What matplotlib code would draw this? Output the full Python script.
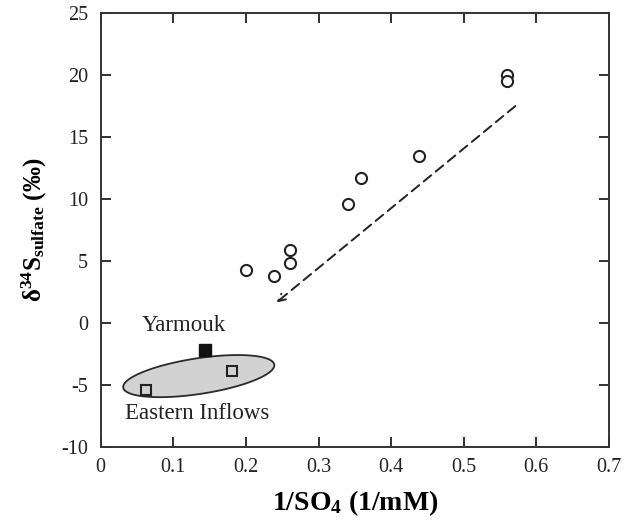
import numpy as np
import matplotlib
matplotlib.use("Agg")
import matplotlib.pyplot as plt
from matplotlib.patches import Polygon

plt.rcParams['font.family'] = ['Liberation Serif', 'DejaVu Serif']
plt.rcParams['mathtext.fontset'] = 'custom'
plt.rcParams['mathtext.rm'] = 'Liberation Serif'
plt.rcParams['mathtext.it'] = 'Liberation Serif:italic'
plt.rcParams['mathtext.bf'] = 'Liberation Serif:bold'
plt.rcParams['axes.unicode_minus'] = False

# Data
lake_x = [0.200, 0.239, 0.260, 0.260, 0.340, 0.359, 0.439, 0.560, 0.560]
lake_y = [4.3, 3.8, 5.9, 4.85, 9.6, 11.7, 13.5, 20.0, 19.5]
yarmouk_x = [0.143]
yarmouk_y = [-2.2]
eastern_x = [0.062, 0.181]
eastern_y = [-5.4, -3.9]
arrow_start = (0.574, 17.65)
arrow_end = (0.239, 1.5)
xticks = [0, 0.1, 0.2, 0.3, 0.4, 0.5, 0.6, 0.7]
xticklabels = ['0', '0.1', '0.2', '0.3', '0.4', '0.5', '0.6', '0.7']
yticks = [-10, -5, 0, 5, 10, 15, 20, 25]

fig = plt.figure(figsize=(6.28, 5.28), dpi=100)
ax = fig.add_axes([0.1604, 0.154, 0.8093, 0.8208])

# Ellipse (affine parametrisation in data units)
cx, cy = 0.135, -4.3
A = np.array([0.104, 0.936])
B = np.array([0.0042, -1.42])
t = np.linspace(0, 2 * np.pi, 200)
pts = np.column_stack([cx + np.cos(t) * A[0] + np.sin(t) * B[0],
                       cy + np.cos(t) * A[1] + np.sin(t) * B[1]])
ax.add_patch(Polygon(pts, closed=True, facecolor='#d2d2d2', edgecolor='#2a2a2a',
                     linewidth=1.3, zorder=1))

ax.plot(lake_x, lake_y, linestyle='none', marker='o', markersize=8,
        markerfacecolor='white', markeredgecolor='#222222', markeredgewidth=1.5, zorder=3)
ax.plot(eastern_x, eastern_y, linestyle='none', marker='s', markersize=7,
        markerfacecolor='none', markeredgecolor='#222222', markeredgewidth=1.5, zorder=3)
ax.plot(yarmouk_x, yarmouk_y, linestyle='none', marker='s', markersize=8,
        markerfacecolor='#111111', markeredgecolor='#111111', zorder=3)

ax.annotate('', xy=arrow_end, xytext=arrow_start,
            arrowprops=dict(arrowstyle='->', linestyle=(0, (5, 3)), color='#222222',
                            linewidth=1.4, mutation_scale=13))

ax.text(0.057, -0.2, 'Yarmouk', fontsize=16.5, ha='left', va='center', color='#222222')
ax.text(0.034, -7.35, 'Eastern Inflows', fontsize=16.5, ha='left', va='center', color='#222222')

ax.set_xlim(0, 0.7)
ax.set_ylim(-10, 25)
ax.set_xticks(xticks)
ax.set_xticklabels(xticklabels)
ax.set_yticks(yticks)
ax.tick_params(direction='in', length=7, width=1.3, top=True, right=True,
               labelsize=14.5, colors='#222222')
ax.tick_params(axis='x', pad=8)
ax.tick_params(axis='y', pad=9)
for s in ax.spines.values():
    s.set_linewidth(1.4)
    s.set_color('#333333')

ax.set_xlabel(r'$\mathbf{1/SO_4}$ (1/mM)', fontsize=20, fontweight='bold', labelpad=8)
ax.set_ylabel(r'$\mathbf{\delta^{34}S_{sulfate}}$ (‰)', fontsize=18, fontweight='bold', labelpad=9)

fig.savefig('out.png', dpi=100)
